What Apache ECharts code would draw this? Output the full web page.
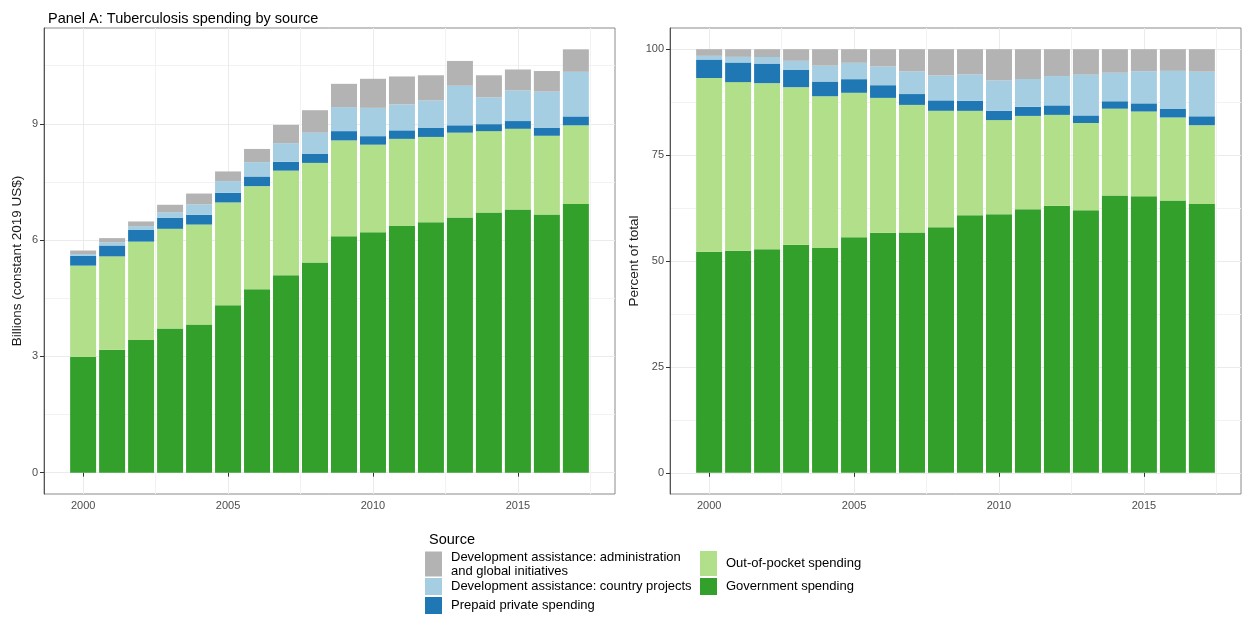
<!DOCTYPE html>
<html>
<head>
<meta charset="utf-8">
<title>Tuberculosis spending by source</title>
<script src="https://cdn.jsdelivr.net/npm/echarts@6/dist/echarts.min.js"></script>
<style>
    html, body { margin: 0; padding: 0; background: #fff; }
    #main { width: 1244px; height: 617px; }
</style>
</head>
<body>
<div id="main"></div>
<script>
// values (billions, constant 2019 US$)
var years = [2000, 2001, 2002, 2003, 2004, 2005, 2006, 2007, 2008, 2009, 2010, 2011, 2012, 2013, 2014, 2015, 2016, 2017];
var govSpending = [2.99, 3.17, 3.42, 3.72, 3.82, 4.32, 4.73, 5.09, 5.42, 6.10, 6.20, 6.36, 6.46, 6.58, 6.71, 6.79, 6.66, 6.93];
var oopSpending = [2.35, 2.41, 2.54, 2.57, 2.58, 2.65, 2.66, 2.70, 2.57, 2.47, 2.26, 2.25, 2.20, 2.19, 2.10, 2.08, 2.03, 2.03];
var prepaidPrivate = [0.25, 0.28, 0.30, 0.28, 0.25, 0.25, 0.25, 0.23, 0.23, 0.24, 0.22, 0.22, 0.23, 0.19, 0.18, 0.20, 0.21, 0.23];
var daCountry = [0.05, 0.08, 0.10, 0.15, 0.27, 0.30, 0.37, 0.48, 0.55, 0.62, 0.73, 0.67, 0.71, 1.02, 0.69, 0.79, 0.93, 1.15];
var daAdmin = [0.09, 0.11, 0.12, 0.19, 0.28, 0.25, 0.34, 0.47, 0.58, 0.60, 0.75, 0.72, 0.65, 0.64, 0.57, 0.54, 0.53, 0.58];

// tick labels
var yearTicks = [2000, 2005, 2010, 2015];
var yearMinor = [2002.5, 2007.5, 2012.5, 2017.5];
var billionTicks = [0, 3, 6, 9];
var billionMinor = [1.5, 4.5, 7.5, 10.5];
var percentTicks = [0, 25, 50, 75, 100];
var percentMinor = [12.5, 37.5, 62.5, 87.5];

var FONT = '"Liberation Sans", Arial, Helvetica, sans-serif';

var sources = [
    { name: 'Government spending', data: govSpending, color: '#33A02C' },
    { name: 'Out-of-pocket spending', data: oopSpending, color: '#B2DF8A' },
    { name: 'Prepaid private spending', data: prepaidPrivate, color: '#1F78B4' },
    { name: 'Development assistance: country projects', data: daCountry, color: '#A6CEE3' },
    { name: 'Development assistance: administration and global initiatives', data: daAdmin, color: '#B3B3B3' }
];

var totals = years.map(function(y, i) {
    return sources.reduce(function(s, src) { return s + src.data[i]; }, 0);
});

var myChart = echarts.init(document.getElementById('main'));

function majorX(gridIndex) {
    return {
        type: 'value', gridIndex: gridIndex, position: 'bottom',
        min: 1998.65, max: 2018.35,
        axisLine: { show: false },
        axisTick: { show: true, length: 4, customValues: yearTicks, lineStyle: { color: '#333' } },
        axisLabel: {
            customValues: yearTicks, color: '#4D4D4D', fontSize: 11, fontFamily: FONT, margin: 6,
            formatter: function(v) { return String(v); }
        },
        splitLine: { show: true, lineStyle: { color: '#EBEBEB', width: 1 } }
    };
}
function minorX(gridIndex) {
    return {
        type: 'value', gridIndex: gridIndex, position: 'bottom',
        min: 1998.65, max: 2018.35,
        axisLine: { show: false },
        axisTick: { show: false, customValues: yearMinor },
        axisLabel: { show: false },
        splitLine: { show: true, lineStyle: { color: '#F2F2F2', width: 1 } }
    };
}
function majorY(gridIndex, min, max, ticks, name, nameGap) {
    return {
        type: 'value', gridIndex: gridIndex, position: 'left',
        min: min, max: max,
        name: name, nameLocation: 'middle', nameGap: nameGap,
        nameTextStyle: { color: '#1a1a1a', fontSize: 13.5, fontFamily: FONT },
        axisLine: { show: true, lineStyle: { color: '#555' } },
        axisTick: { show: true, length: 4, customValues: ticks, lineStyle: { color: '#333' } },
        axisLabel: { customValues: ticks, color: '#4D4D4D', fontSize: 11, fontFamily: FONT, margin: 6 },
        splitLine: { show: true, lineStyle: { color: '#EBEBEB', width: 1 } }
    };
}
function minorY(gridIndex, min, max, ticks) {
    return {
        type: 'value', gridIndex: gridIndex, position: 'left',
        min: min, max: max,
        axisLine: { show: false },
        axisTick: { show: false, customValues: ticks },
        axisLabel: { show: false },
        splitLine: { show: true, lineStyle: { color: '#F2F2F2', width: 1 } }
    };
}

var series = [];
sources.forEach(function(src) {
    // left: billions.  value first so the stack runs on y, year goes to x
    series.push({
        name: src.name, type: 'bar', stack: 'billions',
        xAxisIndex: 0, yAxisIndex: 0, barWidth: 26,
        encode: { x: 1, y: 0 },
        itemStyle: { color: src.color },
        data: years.map(function(y, i) { return [src.data[i], y]; })
    });
    // right: share of total
    series.push({
        name: src.name, type: 'bar', stack: 'percent',
        xAxisIndex: 2, yAxisIndex: 2, barWidth: 26,
        encode: { x: 1, y: 0 },
        itemStyle: { color: src.color },
        data: years.map(function(y, i) { return [src.data[i] / totals[i] * 100, y]; })
    });
});

var legendText = { fontSize: 13, color: '#000', fontFamily: FONT, lineHeight: 14, padding: [0, 0, 0, 4] };
function legendItem(name, left, top, h, formatter) {
    var l = {
        orient: 'vertical', left: left, top: top, padding: 0,
        itemWidth: 17, itemHeight: h, icon: 'rect',
        textStyle: legendText, data: [name]
    };
    if (formatter) l.formatter = formatter;
    return l;
}

var option = {
    animation: false,
    backgroundColor: '#fff',
    title: [{
        text: 'Panel A: Tuberculosis spending by source',
        left: 43, top: 6,
        textStyle: { fontSize: 14.5, fontWeight: 'normal', color: '#000', fontFamily: FONT }
    }, {
        text: 'Source',
        left: 424, top: 527,
        textStyle: { fontSize: 14.5, fontWeight: 'normal', color: '#000', fontFamily: FONT }
    }],
    legend: [
        legendItem(sources[4].name, 425, 550, 25, function() {
            return 'Development assistance: administration\nand global initiatives';
        }),
        legendItem(sources[3].name, 425, 578, 17),
        legendItem(sources[2].name, 425, 597, 17),
        legendItem(sources[1].name, 700, 551, 25),
        legendItem(sources[0].name, 700, 578, 17)
    ],
    grid: [
        { left: 44, top: 28, width: 571, height: 466, show: true, borderColor: '#8a8a8a', borderWidth: 1 },
        { left: 670, top: 28, width: 571, height: 466, show: true, borderColor: '#8a8a8a', borderWidth: 1 }
    ],
    xAxis: [majorX(0), minorX(0), majorX(1), minorX(1)],
    yAxis: [
        majorY(0, -0.55, 11.47, billionTicks, 'Billions (constant 2019 US$)', 20),
        minorY(0, -0.55, 11.47, billionMinor),
        majorY(1, -5, 105, percentTicks, 'Percent of total', 28),
        minorY(1, -5, 105, percentMinor)
    ],
    series: series
};

myChart.setOption(option);
</script>
</body>
</html>
